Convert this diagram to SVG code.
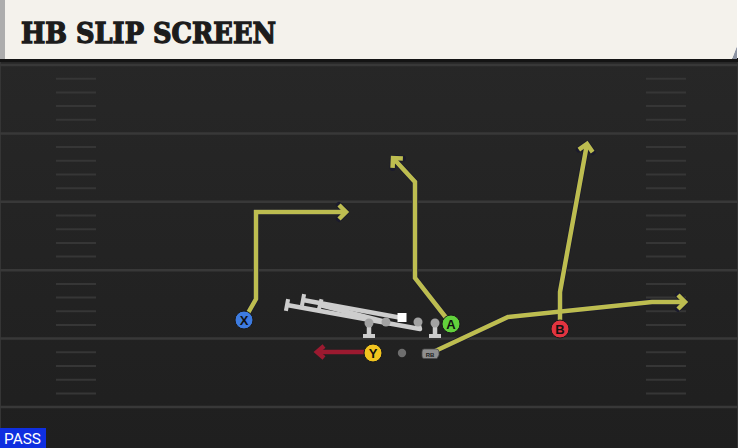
<svg xmlns="http://www.w3.org/2000/svg" width="738" height="448" viewBox="0 0 738 448">
  <defs>
    <linearGradient id="fieldGrad" x1="0" y1="0" x2="0" y2="1">
      <stop offset="0" stop-color="#272727"/>
      <stop offset="1" stop-color="#1f1f1f"/>
    </linearGradient>
    <marker id="arrOut" markerUnits="userSpaceOnUse" markerWidth="30" markerHeight="30" refX="0" refY="0" orient="auto" overflow="visible">
      <path d="M-7,-7 L0,0 L-7,7" fill="none" stroke="#1b1b2c" stroke-width="6" stroke-linejoin="round" stroke-linecap="round"/>
    </marker>
    <marker id="arrY" markerUnits="userSpaceOnUse" markerWidth="30" markerHeight="30" refX="0" refY="0" orient="auto" overflow="visible">
      <path d="M-7,-7 L0,0 L-7,7" fill="none" stroke="#bdbd50" stroke-width="4.5" stroke-linejoin="miter" stroke-linecap="butt"/>
    </marker>
    <marker id="arrR" markerUnits="userSpaceOnUse" markerWidth="30" markerHeight="30" refX="0" refY="0" orient="auto" overflow="visible">
      <path d="M-7,-6 L0,0 L-7,6" fill="none" stroke="#9c1a30" stroke-width="4.5" stroke-linejoin="miter"/>
    </marker>
    <style>
      .yard { stroke: #383838; stroke-width: 2.5; }
      .hash { stroke: #363636; stroke-width: 2; }
      .routeOut { fill: none; stroke: #1b1b2c; stroke-width: 6; stroke-linejoin: miter; marker-end: url(#arrOut); }
      .route { fill: none; stroke: #bdbd50; stroke-width: 4.5; stroke-linejoin: miter; marker-end: url(#arrY); }
      .block { fill: none; stroke: #cdcdcd; stroke-width: 4.5; stroke-linejoin: round; }
      .cap { stroke: #cdcdcd; stroke-width: 4; stroke-linecap: butt; }
      .olDot { fill: #a2a2a2; }
      .badge { stroke: #1a1a1a; stroke-width: 1; }
      .badgeText { font-family: "Liberation Sans", Arial, sans-serif; font-weight: bold; font-size: 13px; fill: #111; text-anchor: middle; }
    </style>
  </defs>

  <!-- field -->
  <rect x="0" y="59" width="738" height="389" fill="url(#fieldGrad)"/>
  <line x1="0.5" y1="62" x2="0.5" y2="448" stroke="#353535" stroke-width="1"/>
  <line x1="737.5" y1="62" x2="737.5" y2="448" stroke="#353535" stroke-width="1"/>

  <g id="yardlines">
    <line class="yard" x1="0" y1="65" x2="738" y2="65"/>
    <line class="yard" x1="0" y1="133.4" x2="738" y2="133.4"/>
    <line class="yard" x1="0" y1="201.8" x2="738" y2="201.8"/>
    <line class="yard" x1="0" y1="270.2" x2="738" y2="270.2"/>
    <line class="yard" x1="0" y1="338.6" x2="738" y2="338.6"/>
    <line class="yard" x1="0" y1="407" x2="738" y2="407"/>
  </g>

  <g id="hashes">
    <path class="hash" d="M56,78.7H96M56,92.4H96M56,106.1H96M56,119.8H96
      M56,147.1H96M56,160.8H96M56,174.5H96M56,188.2H96
      M56,215.5H96M56,229.2H96M56,242.9H96M56,256.6H96
      M56,283.9H96M56,297.6H96M56,311.3H96M56,325H96
      M56,352.3H96M56,366H96M56,379.7H96M56,393.4H96
      M646,78.7H686M646,92.4H686M646,106.1H686M646,119.8H686
      M646,147.1H686M646,160.8H686M646,174.5H686M646,188.2H686
      M646,215.5H686M646,229.2H686M646,242.9H686M646,256.6H686
      M646,283.9H686M646,297.6H686M646,311.3H686M646,325H686
      M646,352.3H686M646,366H686M646,379.7H686M646,393.4H686"/>
  </g>

  <!-- title bar -->
  <g id="title">
    <rect x="0" y="58" width="738" height="4" fill="#141414"/>
    <polygon points="732,59 737,46 737,59" fill="#8c93a2"/>
    <polygon points="0,0 737,0 737,46 732,59 0,59" fill="#f4f2ec"/>
    <rect x="0" y="0" width="5" height="59" fill="#adadad"/>
    <text x="21" y="42.5" font-family="'DejaVu Serif', 'Liberation Serif', serif" font-weight="bold" font-size="27" fill="#1c1c1c" stroke="#1c1c1c" stroke-width="1.3" stroke-linejoin="miter" textLength="255" lengthAdjust="spacingAndGlyphs">HB SLIP SCREEN</text>
  </g>

  <!-- connectors / routes -->
  <g id="connectors">
    <path class="routeOut" d="M244,320 L256,299 L256,212 L346,212"/>
    <path class="routeOut" d="M451,324 L415,278 L415,182 L393,158"/>
    <path class="routeOut" d="M560,329 L560,292 L587,144"/>
    <path class="routeOut" d="M431,353 L508,317 L652,302 L685,302"/>
    <path class="route" d="M244,320 L256,299 L256,212 L346,212"/>
    <path class="route" d="M451,324 L415,278 L415,182 L393,158"/>
    <path class="route" d="M560,329 L560,292 L587,144"/>
    <path class="route" d="M431,353 L508,317 L652,302 L685,302"/>
    <path d="M366,352 L317,352" fill="none" stroke="#9c1a30" stroke-width="4.5" marker-end="url(#arrR)"/>
  </g>

  <!-- offensive line blocking -->
  <g id="oline">
    <path class="block" d="M418,322 L420,329 L287,305"/>
    <line class="cap" x1="288.1" y1="299.1" x2="285.9" y2="310.9"/>
    <path class="block" d="M402,318 L303,300"/>
    <line class="cap" x1="304.1" y1="294.1" x2="301.9" y2="305.9"/>
    <path class="block" d="M386,322 L320,305"/>
    <line class="cap" x1="321.5" y1="299.2" x2="318.5" y2="310.8"/>
    <path class="block" d="M369,323 L369,336"/>
    <line class="cap" x1="363" y1="336" x2="375" y2="336"/>
    <path class="block" d="M435,323 L435,336"/>
    <line class="cap" x1="429" y1="336" x2="441" y2="336"/>
    <circle class="olDot" cx="369" cy="323" r="4.5"/>
    <circle class="olDot" cx="386" cy="322" r="4.5"/>
    <circle class="olDot" cx="418" cy="322" r="4.5"/>
    <circle class="olDot" cx="435" cy="323" r="4.5"/>
    <rect x="397.5" y="313" width="9" height="9" fill="#ffffff"/>
  </g>

  <g id="ball">
    <circle cx="402" cy="353" r="4.2" fill="#6e6e6e"/>
  </g>

  <!-- players -->
  <g id="player-X">
    <circle class="badge" cx="244" cy="320" r="9" fill="#3d7be0"/>
    <text class="badgeText" x="244" y="324.6">X</text>
  </g>
  <g id="player-A">
    <circle class="badge" cx="451" cy="324" r="9" fill="#62d13c"/>
    <text class="badgeText" x="451" y="328.6">A</text>
  </g>
  <g id="player-B">
    <circle class="badge" cx="560" cy="329" r="9" fill="#e23440"/>
    <text class="badgeText" x="560" y="333.6">B</text>
  </g>
  <g id="player-Y">
    <circle class="badge" cx="373" cy="353" r="9" fill="#f2c41f"/>
    <text class="badgeText" x="373" y="357.6">Y</text>
  </g>
  <g id="player-RB">
    <path d="M424,349 H436 Q439,349 439,352 V355 L437,358.5 H424 Q422,358.5 422,356 V352 Q422,349 424,349 Z" fill="#8f8f8f" stroke="#4a4a4a" stroke-width="0.8"/>
    <text x="430" y="356.5" font-family="'Liberation Sans', Arial, sans-serif" font-weight="bold" font-size="6" fill="#222" text-anchor="middle">RB</text>
  </g>

  <!-- play type label -->
  <g id="pass-label">
    <rect x="0" y="428" width="46" height="20" fill="#0f2fe0"/>
    <text x="4" y="444" font-family="Roboto, 'Liberation Sans', sans-serif" font-size="15" fill="#ffffff" textLength="37" lengthAdjust="spacingAndGlyphs">PASS</text>
  </g>
</svg>
